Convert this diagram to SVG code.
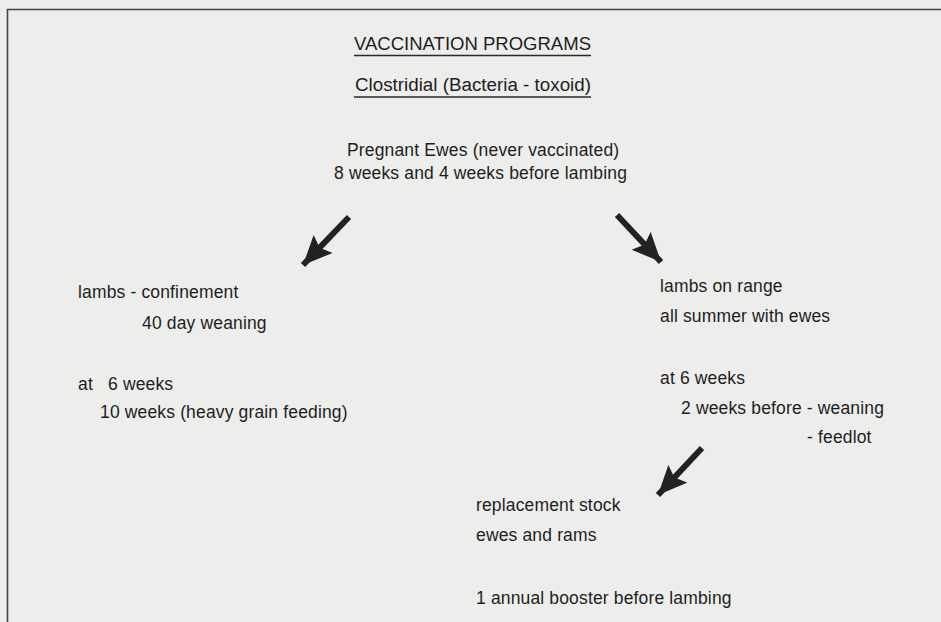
<svg xmlns="http://www.w3.org/2000/svg" width="941" height="622" viewBox="0 0 941 622">
<style>
text{font-family:"Liberation Sans",Arial,Helvetica,sans-serif;font-size:17.5px;letter-spacing:0.15px;fill:#1e1e1e}
.ttl{font-size:18px;letter-spacing:0}
.ul{stroke:#2a2a2a;stroke-width:1.3}
.arr{stroke:#222;stroke-width:6;stroke-linecap:butt;fill:none}
</style>
<defs>
<marker id="ah" markerUnits="userSpaceOnUse" markerWidth="32" markerHeight="28" refX="29" refY="13" orient="auto">
<path d="M0,0 L29,13 L0,26 L5,13 Z" fill="#222"/>
</marker>
</defs>
<rect x="0" y="0" width="941" height="622" fill="#ededeb"/>
<path d="M7.5,630 V9.5 H945" fill="none" stroke="#444" stroke-width="1.6"/>
<g id="title">
<text class="ttl" x="354" y="50" textLength="237" lengthAdjust="spacingAndGlyphs">VACCINATION PROGRAMS</text>
<line class="ul" x1="354" y1="55.5" x2="591" y2="55.5"/>
</g>
<g id="subtitle">
<text class="ttl" x="355" y="91" textLength="236" lengthAdjust="spacingAndGlyphs">Clostridial (Bacteria - toxoid)</text>
<line class="ul" x1="354" y1="97" x2="591" y2="97"/>
</g>
<g id="pregnant-ewes">
<text x="347" y="156">Pregnant Ewes (never vaccinated)</text>
<text x="334" y="179">8 weeks and 4 weeks before lambing</text>
</g>
<g id="lambs-confinement">
<text x="78" y="298">lambs - confinement</text>
<text x="142" y="329">40 day weaning</text>
<text x="78" y="390">at</text>
<text x="108" y="390">6 weeks</text>
<text x="100" y="418">10 weeks (heavy grain feeding)</text>
</g>
<g id="lambs-range">
<text x="660" y="292">lambs on range</text>
<text x="660" y="322">all summer with ewes</text>
<text x="660" y="384">at 6 weeks</text>
<text x="681" y="414">2 weeks before - weaning</text>
<text x="807" y="443">- feedlot</text>
</g>
<g id="replacement-stock">
<text x="476" y="511">replacement stock</text>
<text x="476" y="541">ewes and rams</text>
<text x="476" y="604">1 annual booster before lambing</text>
</g>
<g id="connectors">
<line class="arr" x1="349" y1="217" x2="303" y2="265" marker-end="url(#ah)"/>
<line class="arr" x1="617" y1="215" x2="661" y2="262" marker-end="url(#ah)"/>
<line class="arr" x1="702" y1="448" x2="658" y2="495" marker-end="url(#ah)"/>
</g>
</svg>
